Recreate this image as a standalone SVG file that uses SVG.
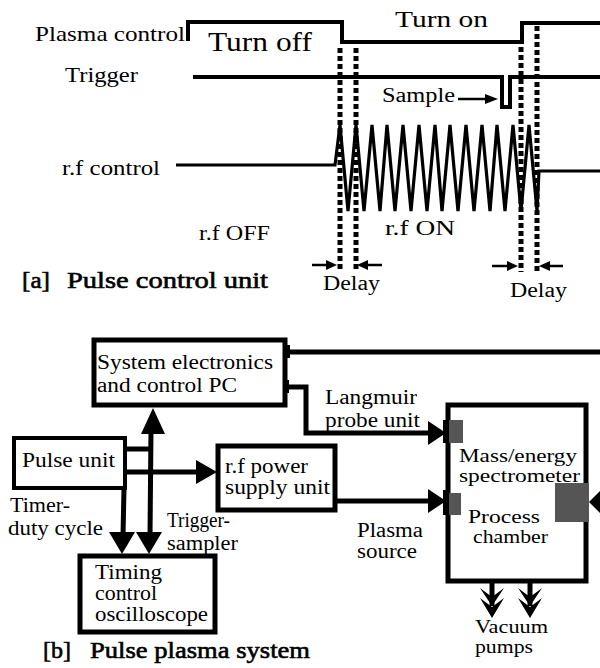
<svg xmlns="http://www.w3.org/2000/svg" width="600" height="668" viewBox="0 0 600 668">
<style>
.t{font-family:"Liberation Serif","Times New Roman",Tinos,serif;font-size:20px;fill:#000}
.s{font-size:19px}
.cap{font-family:"Liberation Serif","Times New Roman",Tinos,serif;font-size:23px;fill:#000;stroke:#000;stroke-width:0.6}
.w{fill:none;stroke:#000;stroke-width:4;stroke-linejoin:miter}
.z{fill:none;stroke:#000;stroke-width:3.2;stroke-linejoin:miter}
.dot{fill:none;stroke:#000;stroke-width:5;stroke-dasharray:5 3}
.thin{fill:none;stroke:#000;stroke-width:2.5}
.box{fill:#fff;stroke:#000;stroke-width:5}
.ln{fill:none;stroke:#000;stroke-width:5}
.ah{fill:#000}
.g{fill:#555}
</style>
<rect width="600" height="668" fill="#fff"/>

<!-- [a] timing diagram -->
<g id="timing-diagram">
  <text class="t" x="35" y="41" style="font-size:21px" textLength="150" lengthAdjust="spacingAndGlyphs">Plasma control</text>
  <text class="t" x="208" y="51" style="font-size:27px" textLength="104" lengthAdjust="spacingAndGlyphs">Turn off</text>
  <text class="t" x="395" y="27" style="font-size:24px" textLength="93" lengthAdjust="spacingAndGlyphs">Turn on</text>
  <text class="t" x="65" y="82" textLength="73" lengthAdjust="spacingAndGlyphs">Trigger</text>
  <text class="t" x="382" y="102" textLength="73" lengthAdjust="spacingAndGlyphs">Sample</text>
  <text class="t" x="62" y="175" textLength="98" lengthAdjust="spacingAndGlyphs">r.f control</text>
  <text class="t" x="199" y="240" textLength="71" lengthAdjust="spacingAndGlyphs">r.f OFF</text>
  <text class="t" x="385" y="235" textLength="70" lengthAdjust="spacingAndGlyphs">r.f  ON</text>
  <text class="t" x="323" y="290" textLength="57" lengthAdjust="spacingAndGlyphs">Delay</text>
  <text class="t" x="510" y="297" textLength="57" lengthAdjust="spacingAndGlyphs">Delay</text>
  <text class="cap" x="22" y="288" textLength="28" lengthAdjust="spacingAndGlyphs">[a]</text>
  <text class="cap" x="67" y="288" textLength="201" lengthAdjust="spacingAndGlyphs">Pulse control unit</text>

  <!-- plasma control -->
  <path class="w" d="M188,41 V22 H342 V42 H522 V23 H600"/>
  <!-- trigger -->
  <path class="w" d="M193,77 H502 V107 H510 V77 H600"/>
  <!-- sample arrow -->
  <line class="thin" x1="458" y1="99" x2="487" y2="99"/>
  <polygon class="ah" points="498,99 485,94 485,104"/>
  <!-- rf control -->
  <path class="z" d="M176,165 H335 L340,125 L348,211 L356,125 L364,211 L372,125 L380,211 L387,125 L395,211 L403,125 L411,211 L419,125 L427,211 L435,125 L442,211 L450,125 L458,211 L466,125 L474,211 L482,125 L490,211 L497,125 L505,211 L513,125 L521,211 L529,125 L537,211 L539,171 H600"/>
  <!-- dotted markers -->
  <line class="dot" x1="340" y1="48" x2="340" y2="270"/>
  <line class="dot" x1="356" y1="48" x2="356" y2="270"/>
  <line class="dot" x1="521" y1="47" x2="521" y2="272"/>
  <line class="dot" x1="537" y1="26" x2="537" y2="272"/>
  <!-- delay arrows -->
  <line class="thin" x1="312" y1="265" x2="330" y2="265"/>
  <polygon class="ah" points="337,265 326,260 326,270"/>
  <line class="thin" x1="365" y1="265" x2="382" y2="265"/>
  <polygon class="ah" points="357,265 368,260 368,270"/>
  <line class="thin" x1="492" y1="266" x2="511" y2="266"/>
  <polygon class="ah" points="518,266 507,261 507,271"/>
  <line class="thin" x1="546" y1="266" x2="563" y2="266"/>
  <polygon class="ah" points="539,266 550,261 550,271"/>
</g>

<!-- [b] block diagram -->
<g id="connectors">
  <!-- system PC to right edge -->
  <line class="ln" x1="285" y1="352" x2="600" y2="352"/>
  <rect class="ah" x="284" y="345" width="6" height="13"/>
  <!-- Langmuir probe -->
  <path class="ln" d="M285,387 H306 V433 H430"/>
  <rect class="ah" x="282" y="380" width="7" height="13"/>
  <polygon class="ah" points="446,433 428,421 428,445"/>
  <!-- rf power to chamber -->
  <path class="ln" d="M335,501 H430"/>
  <polygon class="ah" points="446,501 428,489 428,513"/>
  <!-- pulse to system PC and trigger line -->
  <path class="ln" d="M125,449 H151"/>
  <line class="ln" x1="151" y1="430" x2="150" y2="536"/>
  <polygon class="ah" points="153,408 141,434 165,434"/>
  <!-- pulse to timing (timer line) -->
  <line class="ln" x1="124" y1="488" x2="123" y2="536"/>
  <polygon class="ah" points="122,554 109,532 135,532"/>
  <polygon class="ah" points="149,554 136,532 162,532"/>
  <!-- pulse to rf power -->
  <path class="ln" d="M125,472 H198"/>
  <polygon class="ah" points="217,472 196,460 196,484"/>
  <!-- vacuum pumps -->
  <line class="ln" x1="492" y1="575" x2="492" y2="606"/>
  <line class="ln" x1="530" y1="575" x2="530" y2="606"/>
  <polygon class="ah" points="492,618 480,598 492,607 504,598"/>
  <polygon class="ah" points="492,606 480,588 492,597 504,588"/>
  <polygon class="ah" points="530,618 518,598 530,607 542,598"/>
  <polygon class="ah" points="530,606 518,588 530,597 542,588"/>
  <!-- right side input -->
  <polygon class="ah" points="589,502 600,491 600,513"/>
</g>

<g id="sys">
  <rect class="box" x="94" y="340" width="191" height="65"/>
  <text class="t" x="97" y="369" textLength="176" lengthAdjust="spacingAndGlyphs">System electronics</text>
  <text class="t" x="97" y="392" textLength="140" lengthAdjust="spacingAndGlyphs">and control PC</text>
</g>

<g id="pulse">
  <rect class="box" x="14" y="438" width="111" height="50" style="stroke-width:4"/>
  <text class="t" x="22" y="467" textLength="93" lengthAdjust="spacingAndGlyphs">Pulse unit</text>
</g>

<g id="rfpower">
  <rect class="box" x="218" y="446" width="117" height="64"/>
  <text class="t" x="225" y="473" textLength="83" lengthAdjust="spacingAndGlyphs">r.f power</text>
  <text class="t" x="225" y="494" textLength="105" lengthAdjust="spacingAndGlyphs">supply unit</text>
</g>

<g id="timing">
  <rect class="box" x="80" y="556" width="135" height="76"/>
  <text class="t" x="95" y="579" textLength="67" lengthAdjust="spacingAndGlyphs">Timing</text>
  <text class="t" x="95" y="600" textLength="62" lengthAdjust="spacingAndGlyphs">control</text>
  <text class="t" x="95" y="621" textLength="113" lengthAdjust="spacingAndGlyphs">oscilloscope</text>
</g>

<g id="chamber">
  <rect class="box" x="448" y="405" width="138" height="176"/>
  <rect class="g" x="448" y="420" width="15" height="23"/>
  <rect class="ah" x="443" y="420" width="6" height="23"/>
  <rect class="g" x="448" y="493" width="13" height="22"/>
  <rect class="ah" x="443" y="490" width="6" height="25"/>
  <rect class="g" x="555" y="483" width="34" height="39"/>
  <text class="t s" x="459" y="462" textLength="118" lengthAdjust="spacingAndGlyphs">Mass/energy</text>
  <text class="t s" x="459" y="482" textLength="121" lengthAdjust="spacingAndGlyphs">spectrometer</text>
  <text class="t s" x="468" y="523" textLength="72" lengthAdjust="spacingAndGlyphs">Process</text>
  <text class="t s" x="473" y="543" textLength="75" lengthAdjust="spacingAndGlyphs">chamber</text>
</g>

<g id="labels">
  <text class="t" x="325" y="404" textLength="92" lengthAdjust="spacingAndGlyphs">Langmuir</text>
  <text class="t" x="325" y="427" textLength="95" lengthAdjust="spacingAndGlyphs">probe unit</text>
  <text class="t" x="10" y="512" textLength="60" lengthAdjust="spacingAndGlyphs">Timer-</text>
  <text class="t" x="8" y="535" textLength="95" lengthAdjust="spacingAndGlyphs">duty cycle</text>
  <text class="t" x="167" y="527" textLength="63" lengthAdjust="spacingAndGlyphs">Trigger-</text>
  <text class="t" x="167" y="550" textLength="71" lengthAdjust="spacingAndGlyphs">sampler</text>
  <text class="t" x="357" y="537" textLength="66" lengthAdjust="spacingAndGlyphs">Plasma</text>
  <text class="t" x="357" y="558" textLength="60" lengthAdjust="spacingAndGlyphs">source</text>
  <text class="t s" x="475" y="633" textLength="73" lengthAdjust="spacingAndGlyphs">Vacuum</text>
  <text class="t s" x="475" y="653" textLength="58" lengthAdjust="spacingAndGlyphs">pumps</text>
  <text class="cap" x="43" y="658" textLength="28" lengthAdjust="spacingAndGlyphs">[b]</text>
  <text class="cap" x="90" y="658" textLength="220" lengthAdjust="spacingAndGlyphs">Pulse plasma system</text>
</g>
</svg>
